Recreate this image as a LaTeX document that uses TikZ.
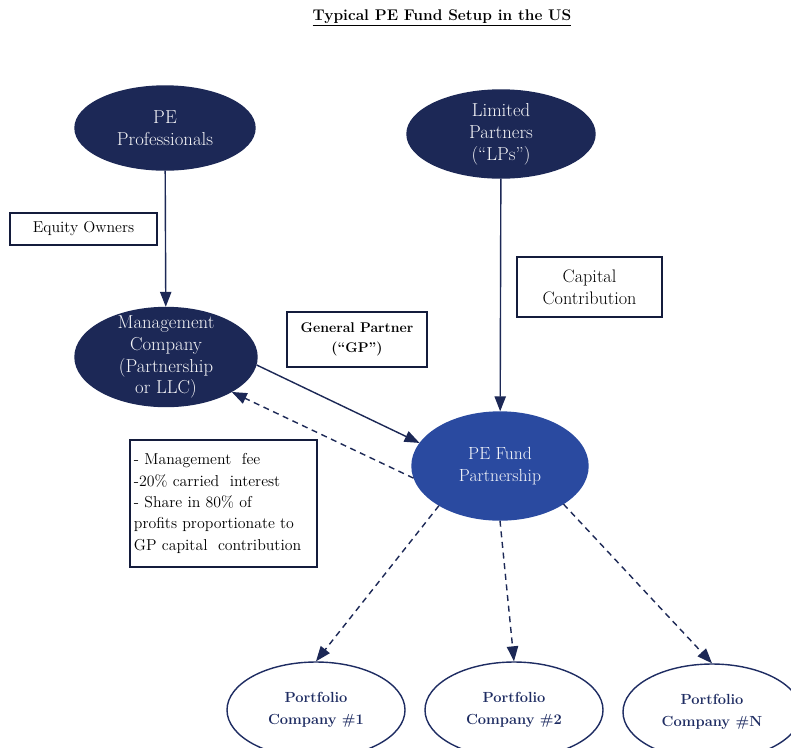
\documentclass[tikz,border=0pt]{standalone}
\usepackage{fontspec}
\usepackage{tikz}
\usetikzlibrary{arrows.meta, positioning, shapes.geometric}
\usepackage{xcolor}
\definecolor{navy}{RGB}{28,40,86}
\definecolor{fundblue}{RGB}{42,74,160}
\definecolor{inkblue}{RGB}{30,44,98}
\tikzset{%
	every party/.style={
		ellipse,
		inner xsep=0pt,
		inner ysep=-8pt,
		align=center,
		line width=1.2pt
	},
	dark party/.style={
		every party,
		fill=navy,
		draw=navy,
		text=white!96!navy,
		font=\fontsize{16}{18.7}\selectfont
	},
	fund party/.style={
		every party,
		fill=fundblue,
		draw=fundblue,
		text=white!96!fundblue
	},
	portfolio party/.style={
		every party,
		fill=white,
		draw=inkblue,
		text=inkblue,
		font=\fontsize{12.5}{18.5}\selectfont\bfseries,
		minimum width=5.34cm,
		minimum height=2.88cm
	},
	note box/.style={
		rectangle,
		draw=navy!70!black,
		line width=1.1pt,
		fill=white,
		text=black,
		inner sep=0pt
	},
}

\begin{document}
\begin{tikzpicture}[
			x=0.03cm, y=-0.03cm,
			every node/.style={font=\fontsize{15}{18.5}\selectfont},
			solid link/.style={draw=navy, line width=1.2pt, -{Triangle[length=4.5mm, width=3.4mm]}},
			dashed link/.style={solid link, dash pattern=on 1.8mm off 1.4mm}
			]
			
			\useasboundingbox (0,0) rectangle (791,747);
			\clip (0,0) rectangle (791,747);
			\fill[white] (0,0) rectangle (791,747);
			
			% Title
			\node (T) at (442,18) {\fontsize{13.2}{16}\selectfont\bfseries\underline{Typical PE Fund Setup in the US}};
			
			% Parties
			\node[dark party, minimum width=5.4cm, minimum height=2.52cm] (P) at (165,128) {PE\\Professionals};
			\node[dark party, minimum width=5.64cm, minimum height=2.64cm] (L) at (501,134) {Limited\\Partners\\(``LPs'')};
			\node[dark party, minimum width=5.46cm, minimum height=2.97cm] (M) at (166,357) {Management\\Company\\(Partnership\\or LLC)};
			\node[fund party, minimum width=5.28cm, minimum height=3.24cm] (F) at (500,466) {PE Fund\\Partnership};
			
			\node[portfolio party] (C1) at (316,710) {Portfolio\\Company \#1};
			\node[portfolio party] (C2) at (514,710) {Portfolio\\Company \#2};
			\node[portfolio party] (CN) at (712,712) {Portfolio\\Company \#N};
			
			% Labels
			\node[note box, minimum width=4.41cm, minimum height=0.96cm, font=\fontsize{13.5}{17}\selectfont] (E) at (83.5,229) {Equity Owners};
			\node[note box, minimum width=4.2cm, minimum height=1.65cm, align=center, font=\fontsize{12}{17}\selectfont\bfseries] (G) at (357,339.5) {General Partner\\(``GP'')};
			\node[note box, minimum width=4.35cm, minimum height=1.8cm, align=center, font=\fontsize{15.5}{18.5}\selectfont] (K) at (589.5,287) {Capital\\Contribution};
			\node[note box, minimum width=5.61cm, minimum height=3.81cm, text width=5.37cm, inner xsep=0.12cm, align=left, font=\fontsize{13.5}{18.3}\selectfont] (N) at (223.5,503.5) {- Management~ fee\\-20\% carried~ interest\\- Share in 80\% of\\profits proportionate to\\GP capital~ contribution};
			
			% Links
			\draw[solid link] (P) -- (M);
			\draw[solid link] (L) -- (F);
			\draw[solid link] (M.-5) -- (F.164);
			\draw[dashed link] (F.-172) -- (M.-28);
			\draw[dashed link] (F.-147) -- (C1.north);
			\draw[dashed link] (F.south) -- (C2.north);
			\draw[dashed link] (F.-31) -- (CN.north);
			
		\end{tikzpicture}
\end{document}
